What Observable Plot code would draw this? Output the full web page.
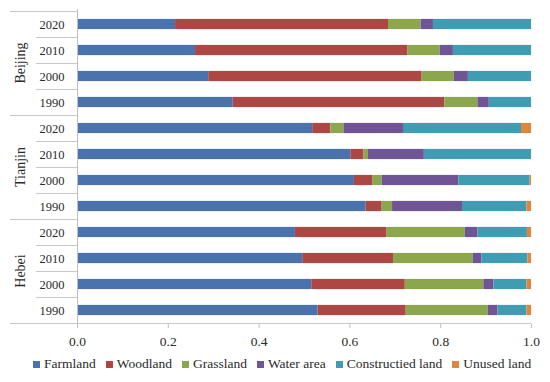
<!DOCTYPE html>
<html><head><meta charset="utf-8">
<script src="https://cdn.jsdelivr.net/npm/d3@7"></script>
<script src="https://cdn.jsdelivr.net/npm/@observablehq/plot@0.6"></script>
<style>
body{margin:0;background:#fff;font-family:"Liberation Serif","Times New Roman",serif;}
#chart{width:550px;height:382px;position:relative;overflow:hidden}
.legend{position:absolute;top:356px;left:33px;display:flex;align-items:center;font-size:13.5px;color:#2a2a2a;white-space:nowrap}
.legend .item{display:flex;align-items:center;margin-right:10px}
.legend .sw{width:7px;height:7px;margin-right:4px}
</style></head>
<body><div id="chart"></div>
<script>
const groups = ["Beijing", "Tianjin", "Hebei"];
const years = ["2020", "2010", "2000", "1990"];
const landTypes = ["Farmland", "Woodland", "Grassland", "Water area", "Constructied land", "Unused land"];
const typeColors = ["#4a73ad", "#ad4744", "#8ba64d", "#6f5496", "#409cb3", "#e0863c"];
const xTicks = [0, 0.2, 0.4, 0.6, 0.8, 1.0];

// values per land type, rows ordered: Beijing 2020..1990, Tianjin 2020..1990, Hebei 2020..1990
const farmland   = [0.216, 0.260, 0.289, 0.343, 0.518, 0.602, 0.610, 0.636, 0.480, 0.496, 0.516, 0.530];
const woodland   = [0.469, 0.468, 0.470, 0.466, 0.040, 0.029, 0.040, 0.035, 0.202, 0.200, 0.206, 0.194];
const grassland  = [0.072, 0.071, 0.071, 0.073, 0.029, 0.010, 0.021, 0.023, 0.172, 0.176, 0.173, 0.181];
const waterArea  = [0.027, 0.029, 0.031, 0.025, 0.131, 0.123, 0.169, 0.154, 0.028, 0.019, 0.022, 0.021];
const construct  = [0.216, 0.172, 0.139, 0.093, 0.260, 0.236, 0.157, 0.142, 0.109, 0.101, 0.073, 0.064];
const unusedLand = [0.000, 0.000, 0.000, 0.000, 0.022, 0.000, 0.003, 0.010, 0.009, 0.008, 0.010, 0.010];

const series = [farmland, woodland, grassland, waterArea, construct, unusedLand];
const keys = groups.flatMap(g => years.map(y => `${g}|${y}`));
const rows = [];
keys.forEach((k, i) => landTypes.forEach((t, j) => rows.push({key: k, type: t, value: series[j][i]})));

const font = "'Liberation Serif','Times New Roman',serif";
const plot = Plot.plot({
  width: 550, height: 352,
  marginTop: 9, marginBottom: 28, marginLeft: 77, marginRight: 19,
  style: {fontFamily: font, fontSize: "13px", color: "#2a2a2a", background: "#fff"},
  x: {domain: [0, 1]},
  y: {domain: keys, padding: 0},
  color: {domain: landTypes, range: typeColors},
  marks: [
    Plot.barX(rows, Plot.stackX({x: "value", y: "key", fill: "type", insetTop: 7.9, insetBottom: 7.9})),
    Plot.ruleX([0], {stroke: "#bfbfbf"}),
    Plot.axisX({ticks: xTicks, tickFormat: ".1f", tickSize: 4, tickPadding: 8, stroke: "#bfbfbf", fill: "#2a2a2a", fontSize: 13.5, label: null}),
    Plot.axisY({tickFormat: d => d.split("|")[1], tickSize: 0, tickPadding: 13, fill: "#2a2a2a", fontSize: 12.5, label: null})
  ]
});

const svg = d3.select(plot);
const ys = plot.scale("y");
const xs = plot.scale("x");
const x0 = xs.apply(0), x1 = xs.apply(1);
const bw = ys.bandwidth;
const lg = svg.append("g").attr("stroke", "#c8c8c8").attr("stroke-width", 1);
keys.forEach((k, i) => {
  const top = Math.round(ys.apply(k)) + 0.5;
  lg.append("line").attr("x1", i % 4 === 0 ? 10 : 36).attr("x2", x0).attr("y1", top).attr("y2", top);
});
const bottom = Math.round(ys.apply(keys[keys.length - 1]) + bw) + 0.5;
lg.append("line").attr("x1", 10).attr("x2", x1).attr("y1", bottom).attr("y2", bottom);
groups.forEach(g => {
  const cy = ys.apply(`${g}|${years[0]}`) + bw * years.length / 2;
  svg.append("text").attr("transform", `translate(20,${cy}) rotate(-90)`)
    .attr("text-anchor", "middle").attr("dominant-baseline", "central")
    .attr("fill", "#2a2a2a").style("font-size", "14px").style("font-family", font).text(g);
});

const chart = document.getElementById("chart");
chart.appendChild(plot);
const legend = d3.select(chart).append("div").attr("class", "legend");
landTypes.forEach((t, j) => {
  const it = legend.append("div").attr("class", "item");
  it.append("div").attr("class", "sw").style("background", typeColors[j]);
  it.append("span").text(t);
});
</script>
</body></html>
